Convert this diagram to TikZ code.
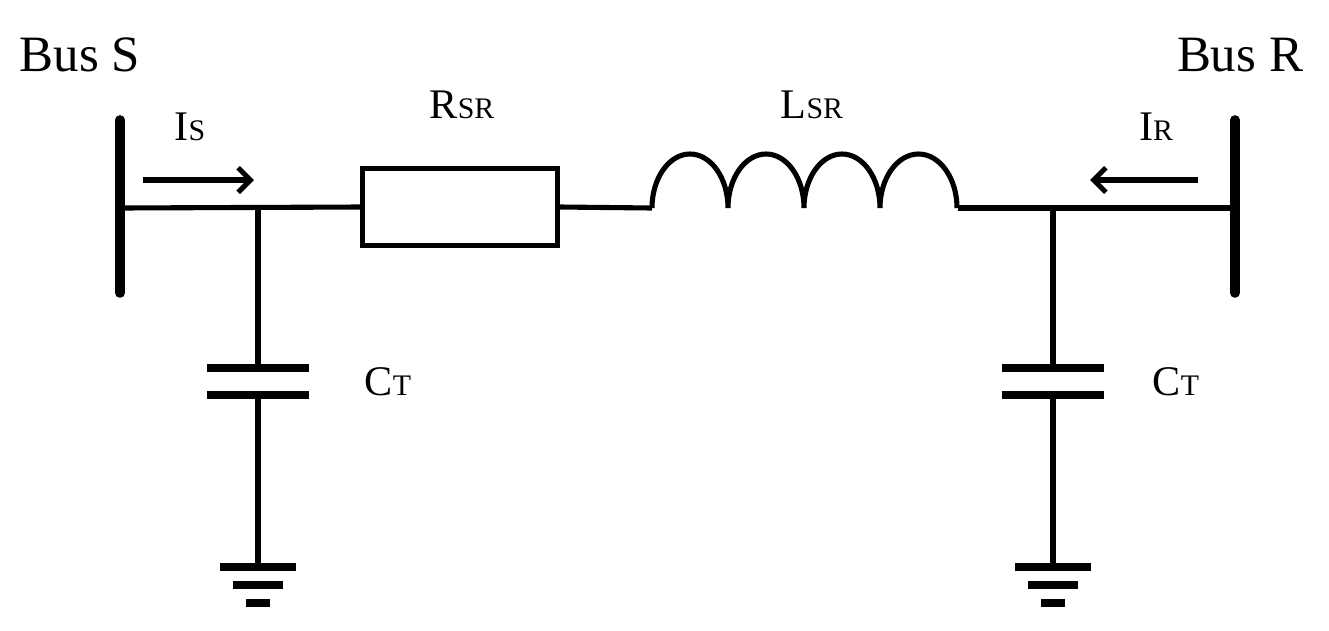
\documentclass[tikz,border=0pt]{standalone}
\usepackage{fontspec}
\setmainfont{Liberation Serif}
\begin{document}
\begin{tikzpicture}[x=0.02cm,y=-0.02cm,
 wire/.style={line width=2.9pt},
 bus/.style={line width=5.5pt,line cap=round},
 plate/.style={line width=5pt},
 lbl/.style={font=\fontsize{24}{28}\selectfont},
 big/.style={font=\fontsize{29}{34}\selectfont},
 arr/.style={line width=2.9pt,-{Straight Barb[length=7pt,width=14pt]}}]
\useasboundingbox (0,0) rectangle (1329,630);
\usetikzlibrary{arrows.meta}
% buses
\coordinate (bs1) at (120,120); \coordinate (bs2) at (120,293);
\coordinate (br1) at (1235,120); \coordinate (br2) at (1235,293);
\draw[bus] (bs1) -- (bs2);
\draw[bus] (br1) -- (br2);
% main line
\coordinate (ls) at (120,208); \coordinate (js) at (258,208);
\coordinate (jr) at (1053,208); \coordinate (lr) at (1235,208);
\node[draw,wire,minimum width=195*0.02cm,minimum height=77*0.02cm,inner sep=0] (R) at (460,207) {};
\coordinate (l1) at (652,208); \coordinate (l2) at (958,208);
\draw[wire] (ls) -- (R.west);
\draw[wire] (R.east) -- (l1);
\draw[wire] (l1) arc[start angle=180,end angle=0,x radius=38,y radius=-54]
  arc[start angle=180,end angle=0,x radius=38,y radius=-54]
  arc[start angle=180,end angle=0,x radius=38,y radius=-54]
  arc[start angle=180,end angle=0,x radius=38.5,y radius=-54];
\draw[wire] (l2) -- (lr);
% shunts
\foreach \n/\x in {s/258,r/1053}{
 \coordinate (c\n1) at (\x,368); \coordinate (c\n2) at (\x,395);
 \draw[wire] (\x,208) -- (c\n1);
 \draw[plate] (\x-51,368) -- (\x+51,368);
 \draw[plate] (\x-51,395) -- (\x+51,395);
 \draw[wire] (c\n2) -- (\x,566);
 \draw[plate] (\x-38,567) -- (\x+38,567);
 \draw[plate] (\x-25,585) -- (\x+25,585);
 \draw[plate] (\x-12,603) -- (\x+12,603);
}
% arrows
\coordinate (a1) at (143,180); \coordinate (a2) at (254,180);
\coordinate (b1) at (1198,180); \coordinate (b2) at (1090,180);
\draw[arr] (a1) -- (a2);
\draw[arr] (b1) -- (b2);
% labels
\node[big] (tbs) at (80,55) {Bus S};
\node[big] (tbr) at (1240,55) {Bus R};
\node[lbl] (tis) at (190,127) {I{\fontsize{17}{20}\selectfont S}};
\node[lbl] (tir) at (1156,127) {I{\fontsize{17}{20}\selectfont R}};
\node[lbl] (trs) at (462,105) {R{\fontsize{17}{20}\selectfont SR}};
\node[lbl] (tls) at (812,105) {L{\fontsize{17}{20}\selectfont SR}};
\node[lbl] (tc1) at (388,382) {C{\fontsize{17}{20}\selectfont T}};
\node[lbl] (tc2) at (1176,382) {C{\fontsize{17}{20}\selectfont T}};
\end{tikzpicture}
\end{document}
